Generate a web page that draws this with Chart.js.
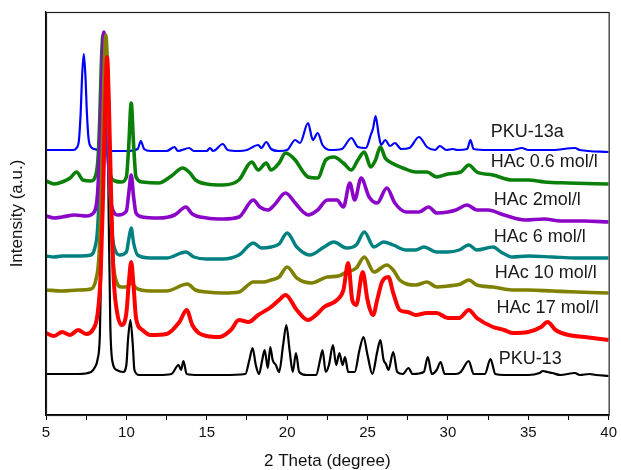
<!DOCTYPE html>
<html>
<head>
<meta charset="utf-8">
<script src="https://cdn.jsdelivr.net/npm/chart.js@4.4.0/dist/chart.umd.min.js"></script>
<style>
html,body{margin:0;padding:0;background:#fff;}
canvas{display:block;}
</style>
</head>
<body>
<canvas id="c" width="621" height="470"></canvas>
<script>
// 2θ (degree) vs intensity (a.u., stacked with offsets as in the figure)
const pku13a = [[5.0,265],[6.0,265],[6.7,265],[6.9,267],[7.05,275],[7.15,300],[7.25,340],[7.35,361],[7.45,340],[7.55,300],[7.65,276],[7.8,268],[8.0,266],[9.0,264],[10.0,264],[10.7,266],[10.9,274],[11.1,266],[11.5,264],[12.5,264],[13.0,268],[13.2,264],[13.9,267],[14.2,264],[15.0,264],[15.2,267],[15.4,264],[16.0,271],[16.3,265],[17.0,264],[17.5,265],[18.2,270],[18.4,267],[18.7,273],[19.0,266],[19.5,264],[20.0,265],[20.5,275],[20.8,272],[21.3,292],[21.6,275],[21.9,282],[22.2,270],[22.7,265],[23.4,266],[24.0,277],[24.4,268],[24.9,267],[25.2,280],[25.35,287],[25.5,299],[25.7,280],[25.85,270],[26.1,275],[26.4,269],[26.7,272],[27.1,266],[27.6,267],[28.2,278],[28.7,268],[29.2,265],[29.5,269],[29.9,265],[30.3,266],[30.6,265],[31.2,266],[31.4,275],[31.6,266],[32.5,265],[34.0,265],[34.6,267],[35.0,265],[36.5,265],[37.9,267],[38.2,265],[40.0,263]];
const hac06 = [[5.0,234],[5.5,231],[6.0,233],[6.5,237],[6.9,243],[7.3,235],[7.8,234],[8.1,240],[8.25,260],[8.35,300],[8.45,355],[8.55,380],[8.65,355],[8.75,300],[8.85,260],[9.0,240],[9.3,234],[9.7,233],[10.0,238],[10.15,270],[10.3,312],[10.45,270],[10.6,238],[11.0,233],[12.0,232],[12.8,239],[13.5,247],[13.9,243],[14.3,235],[15.0,231],[16.0,230],[17.0,235],[17.8,253],[18.2,245],[18.7,252],[19.0,245],[19.5,252],[19.9,262],[20.5,255],[21.0,243],[21.3,238],[21.9,237],[22.4,255],[22.9,258],[23.5,252],[24.0,245],[24.4,255],[24.8,263],[25.2,248],[25.5,255],[25.8,268],[26.1,257],[26.4,253],[27.2,247],[28.0,243],[28.7,243],[29.3,238],[30.0,241],[30.8,243],[31.3,250],[31.8,243],[32.8,240],[34.0,235],[35.0,235],[36.0,233],[37.5,232],[40.0,231]];
const hac2 = [[5.0,199],[5.5,197],[6.0,198],[6.8,200],[7.5,199],[8.0,203],[8.2,220],[8.35,270],[8.5,350],[8.6,383],[8.7,350],[8.85,270],[9.0,220],[9.15,205],[9.5,200],[10.0,204],[10.15,222],[10.3,240],[10.45,218],[10.6,202],[11.0,198],[12.0,197],[13.0,200],[13.7,208],[14.1,201],[15.0,197],[16.0,196],[17.0,198],[17.9,215],[18.3,208],[18.8,205],[19.2,210],[19.9,222],[20.5,212],[21.0,203],[21.3,200],[21.9,205],[22.5,215],[23.1,215],[23.5,208],[23.9,232],[24.2,215],[24.6,237],[25.1,218],[25.6,212],[26.2,227],[26.7,212],[27.4,203],[28.2,203],[28.8,208],[29.3,202],[30.0,203],[30.5,205],[31.2,210],[31.8,205],[32.5,205],[33.5,200],[34.8,195],[36.0,196],[37.0,194],[38.5,194],[40.0,193]];
const hac6 = [[5.0,159],[5.5,158],[6.0,159],[7.0,159],[7.8,160],[8.0,165],[8.2,185],[8.35,240],[8.5,330],[8.65,375],[8.8,330],[8.95,240],[9.1,185],[9.3,165],[9.6,160],[10.0,163],[10.15,176],[10.3,187],[10.45,172],[10.7,160],[11.5,157],[12.5,157],[13.7,163],[14.2,158],[15.0,156],[16.0,156],[17.0,160],[17.9,172],[18.4,167],[19.0,168],[19.5,171],[20.0,182],[20.6,168],[21.4,160],[22.3,168],[22.9,173],[23.7,167],[24.3,170],[24.8,183],[25.4,168],[26.0,173],[26.6,170],[27.4,165],[28.0,165],[28.5,168],[29.3,163],[30.0,163],[30.7,165],[31.3,170],[31.8,165],[32.8,168],[33.3,163],[34.0,158],[35.0,159],[36.5,158],[38.0,157],[40.0,157]];
const hac10 = [[5.0,125],[6.0,124],[7.0,125],[7.8,126],[8.1,135],[8.3,160],[8.45,230],[8.6,335],[8.72,380],[8.85,335],[9.0,230],[9.15,160],[9.35,135],[9.7,128],[10.0,128],[10.3,132],[10.6,127],[11.5,124],[12.5,124],[13.8,131],[14.3,125],[15.0,123],[16.0,122],[17.0,123],[17.9,133],[18.5,133],[19.0,135],[19.5,138],[20.0,148],[20.6,137],[21.5,132],[22.5,138],[23.2,139],[23.7,143],[24.3,147],[24.8,158],[25.4,143],[26.2,150],[26.6,145],[27.0,135],[28.0,130],[28.7,133],[29.3,128],[30.0,129],[30.8,131],[31.3,135],[31.8,130],[32.8,128],[34.0,125],[35.0,125],[36.5,124],[38.0,123],[40.0,122]];
const hac17 = [[5.0,82],[5.5,79],[6.0,83],[6.5,80],[7.0,85],[7.5,81],[7.9,85],[8.2,100],[8.4,140],[8.55,220],[8.7,320],[8.8,358],[8.9,320],[9.05,220],[9.2,140],[9.4,105],[9.7,90],[10.0,102],[10.15,132],[10.3,153],[10.45,128],[10.6,97],[11.0,85],[11.5,80],[12.5,81],[13.3,93],[13.75,105],[14.1,90],[14.5,82],[15.0,79],[15.8,78],[16.5,85],[17.0,95],[17.6,93],[18.2,100],[19.0,108],[19.5,115],[19.9,120],[20.6,105],[21.3,95],[21.8,100],[22.3,108],[23.1,115],[23.5,125],[23.8,152],[24.05,115],[24.3,110],[24.7,143],[25.0,115],[25.35,100],[25.6,115],[25.9,133],[26.3,138],[26.6,122],[27.0,105],[27.5,103],[28.0,100],[28.7,102],[29.3,102],[30.0,97],[30.7,97],[31.3,105],[31.8,97],[32.8,88],[33.5,85],[34.0,82],[35.0,83],[35.8,88],[36.2,93],[36.7,85],[37.5,80],[38.5,78],[40.0,75]];
const pku13 = [[5.0,41],[6.0,41],[7.0,41],[7.8,43],[8.05,48],[8.2,55],[8.35,80],[8.5,200],[8.6,330],[8.7,380],[8.8,330],[8.9,200],[9.0,90],[9.15,52],[9.4,45],[9.8,43],[10.0,50],[10.1,75],[10.25,95],[10.4,70],[10.5,45],[10.8,40],[12.0,40],[12.8,41],[13.25,50],[13.4,45],[13.55,54],[13.75,41],[14.5,40],[16.0,40],[17.4,41],[17.65,55],[17.85,67],[18.05,50],[18.25,41],[18.45,55],[18.6,65],[18.8,47],[18.95,68],[19.1,55],[19.3,50],[19.5,43],[19.75,70],[19.95,90],[20.15,65],[20.35,43],[20.55,62],[20.75,43],[21.2,40],[21.8,40],[22.05,55],[22.2,65],[22.4,43],[22.6,50],[22.85,70],[23.05,50],[23.25,62],[23.45,50],[23.6,58],[23.8,43],[24.2,43],[24.5,65],[24.75,78],[25.0,60],[25.3,41],[25.6,63],[25.8,75],[26.0,55],[26.15,51],[26.3,45],[26.6,63],[26.85,43],[27.2,41],[27.55,47],[27.8,41],[28.5,43],[28.75,58],[29.0,41],[29.3,45],[29.55,53],[29.8,41],[30.5,41],[30.8,43],[31.3,54],[31.6,41],[32.3,41],[32.65,56],[32.95,41],[33.5,40],[35.0,40],[35.7,42],[35.9,44],[36.2,43],[36.5,42],[37.0,40],[37.9,42],[38.2,40],[38.8,41],[39.2,40],[40.0,39]];

const seriesNames = ['PKU-13a','HAc 0.6 mol/l','HAc 2mol/l','HAc 6 mol/l','HAc 10 mol/l','HAc 17 mol/l','PKU-13'];
// label anchor (2θ, intensity) for each series name
const labelX = [32.67,32.67,32.85,32.85,32.91,33.03,33.16];
const labelY = [283,253,215,178,142,107,56];
const xTickStep = 2.5;
const xMin = 5, xMax = 40;

const seriesData = [pku13a, hac06, hac2, hac6, hac10, hac17, pku13];
const colors = ['#0000ff','#0a800a','#8a05c8','#008080','#808000','#ff0000','#000000'];
const widths = [2.2, 3.6, 3.6, 3.4, 3.6, 4, 2.2];
const drawOrder = [6, 3, 2, 4, 1, 0, 5];

const FONT = "'Liberation Sans', Arial, sans-serif";

const frame = {
  id: 'frame',
  afterDatasetsDraw(chart) {
    const {ctx, chartArea: a} = chart;
    ctx.save();
    ctx.strokeStyle = '#222';
    ctx.lineWidth = 1.2;
    ctx.strokeRect(a.left + 0.5, a.top + 0.5, a.right - a.left, a.bottom - a.top);
    ctx.restore();
  }
};
const seriesLabels = {
  id: 'seriesLabels',
  afterDatasetsDraw(chart) {
    const {ctx} = chart;
    const xs = chart.scales.x, ys = chart.scales.y;
    ctx.save();
    ctx.font = '18px ' + FONT;
    ctx.fillStyle = '#1a1a1a';
    ctx.textBaseline = 'middle';
    ctx.textAlign = 'left';
    seriesNames.forEach((n, i) => {
      ctx.fillText(n, xs.getPixelForValue(labelX[i]), ys.getPixelForValue(labelY[i]));
    });
    ctx.restore();
  }
};

new Chart(document.getElementById('c'), {
  type: 'line',
  data: {
    datasets: seriesData.map((d, i) => ({
      label: seriesNames[i],
      data: d,
      borderColor: colors[i],
      borderWidth: widths[i],
      pointRadius: 0,
      fill: false,
      cubicInterpolationMode: 'monotone',
      order: drawOrder[i]
    }))
  },
  options: {
    responsive: false,
    animation: false,
    devicePixelRatio: 1,
    layout: {padding: {top: 12, right: 7, left: 0, bottom: 0}},
    plugins: {legend: {display: false}, tooltip: {enabled: false}},
    scales: {
      x: {
        type: 'linear', min: xMin, max: xMax,
        afterFit(s) { s.height = 55; },
        ticks: {
          stepSize: xTickStep, autoSkip: false, maxRotation: 0, padding: 4,
          color: '#111', font: {family: FONT, size: 15},
          callback: v => (v % 5 === 0 ? String(v) : '')
        },
        grid: {display: true, drawOnChartArea: false, drawTicks: true, tickLength: 5, color: '#000', lineWidth: 1},
        border: {display: true, color: '#000', width: 1.2},
        title: {display: true, text: '2 Theta (degree)', color: '#111',
                font: {family: FONT, size: 17, lineHeight: 1}, padding: {top: 0, bottom: 0}}
      },
      y: {
        min: 0, max: 403,
        afterFit(s) { s.width = 46; },
        ticks: {display: false},
        grid: {display: false},
        border: {display: true, color: '#000', width: 1.2},
        title: {display: true, text: 'Intensity (a.u.)', color: '#111',
                font: {family: FONT, size: 17, lineHeight: 1.2}, padding: {top: 7, bottom: 0}}
      }
    }
  },
  plugins: [frame, seriesLabels]
});
</script>
</body>
</html>
